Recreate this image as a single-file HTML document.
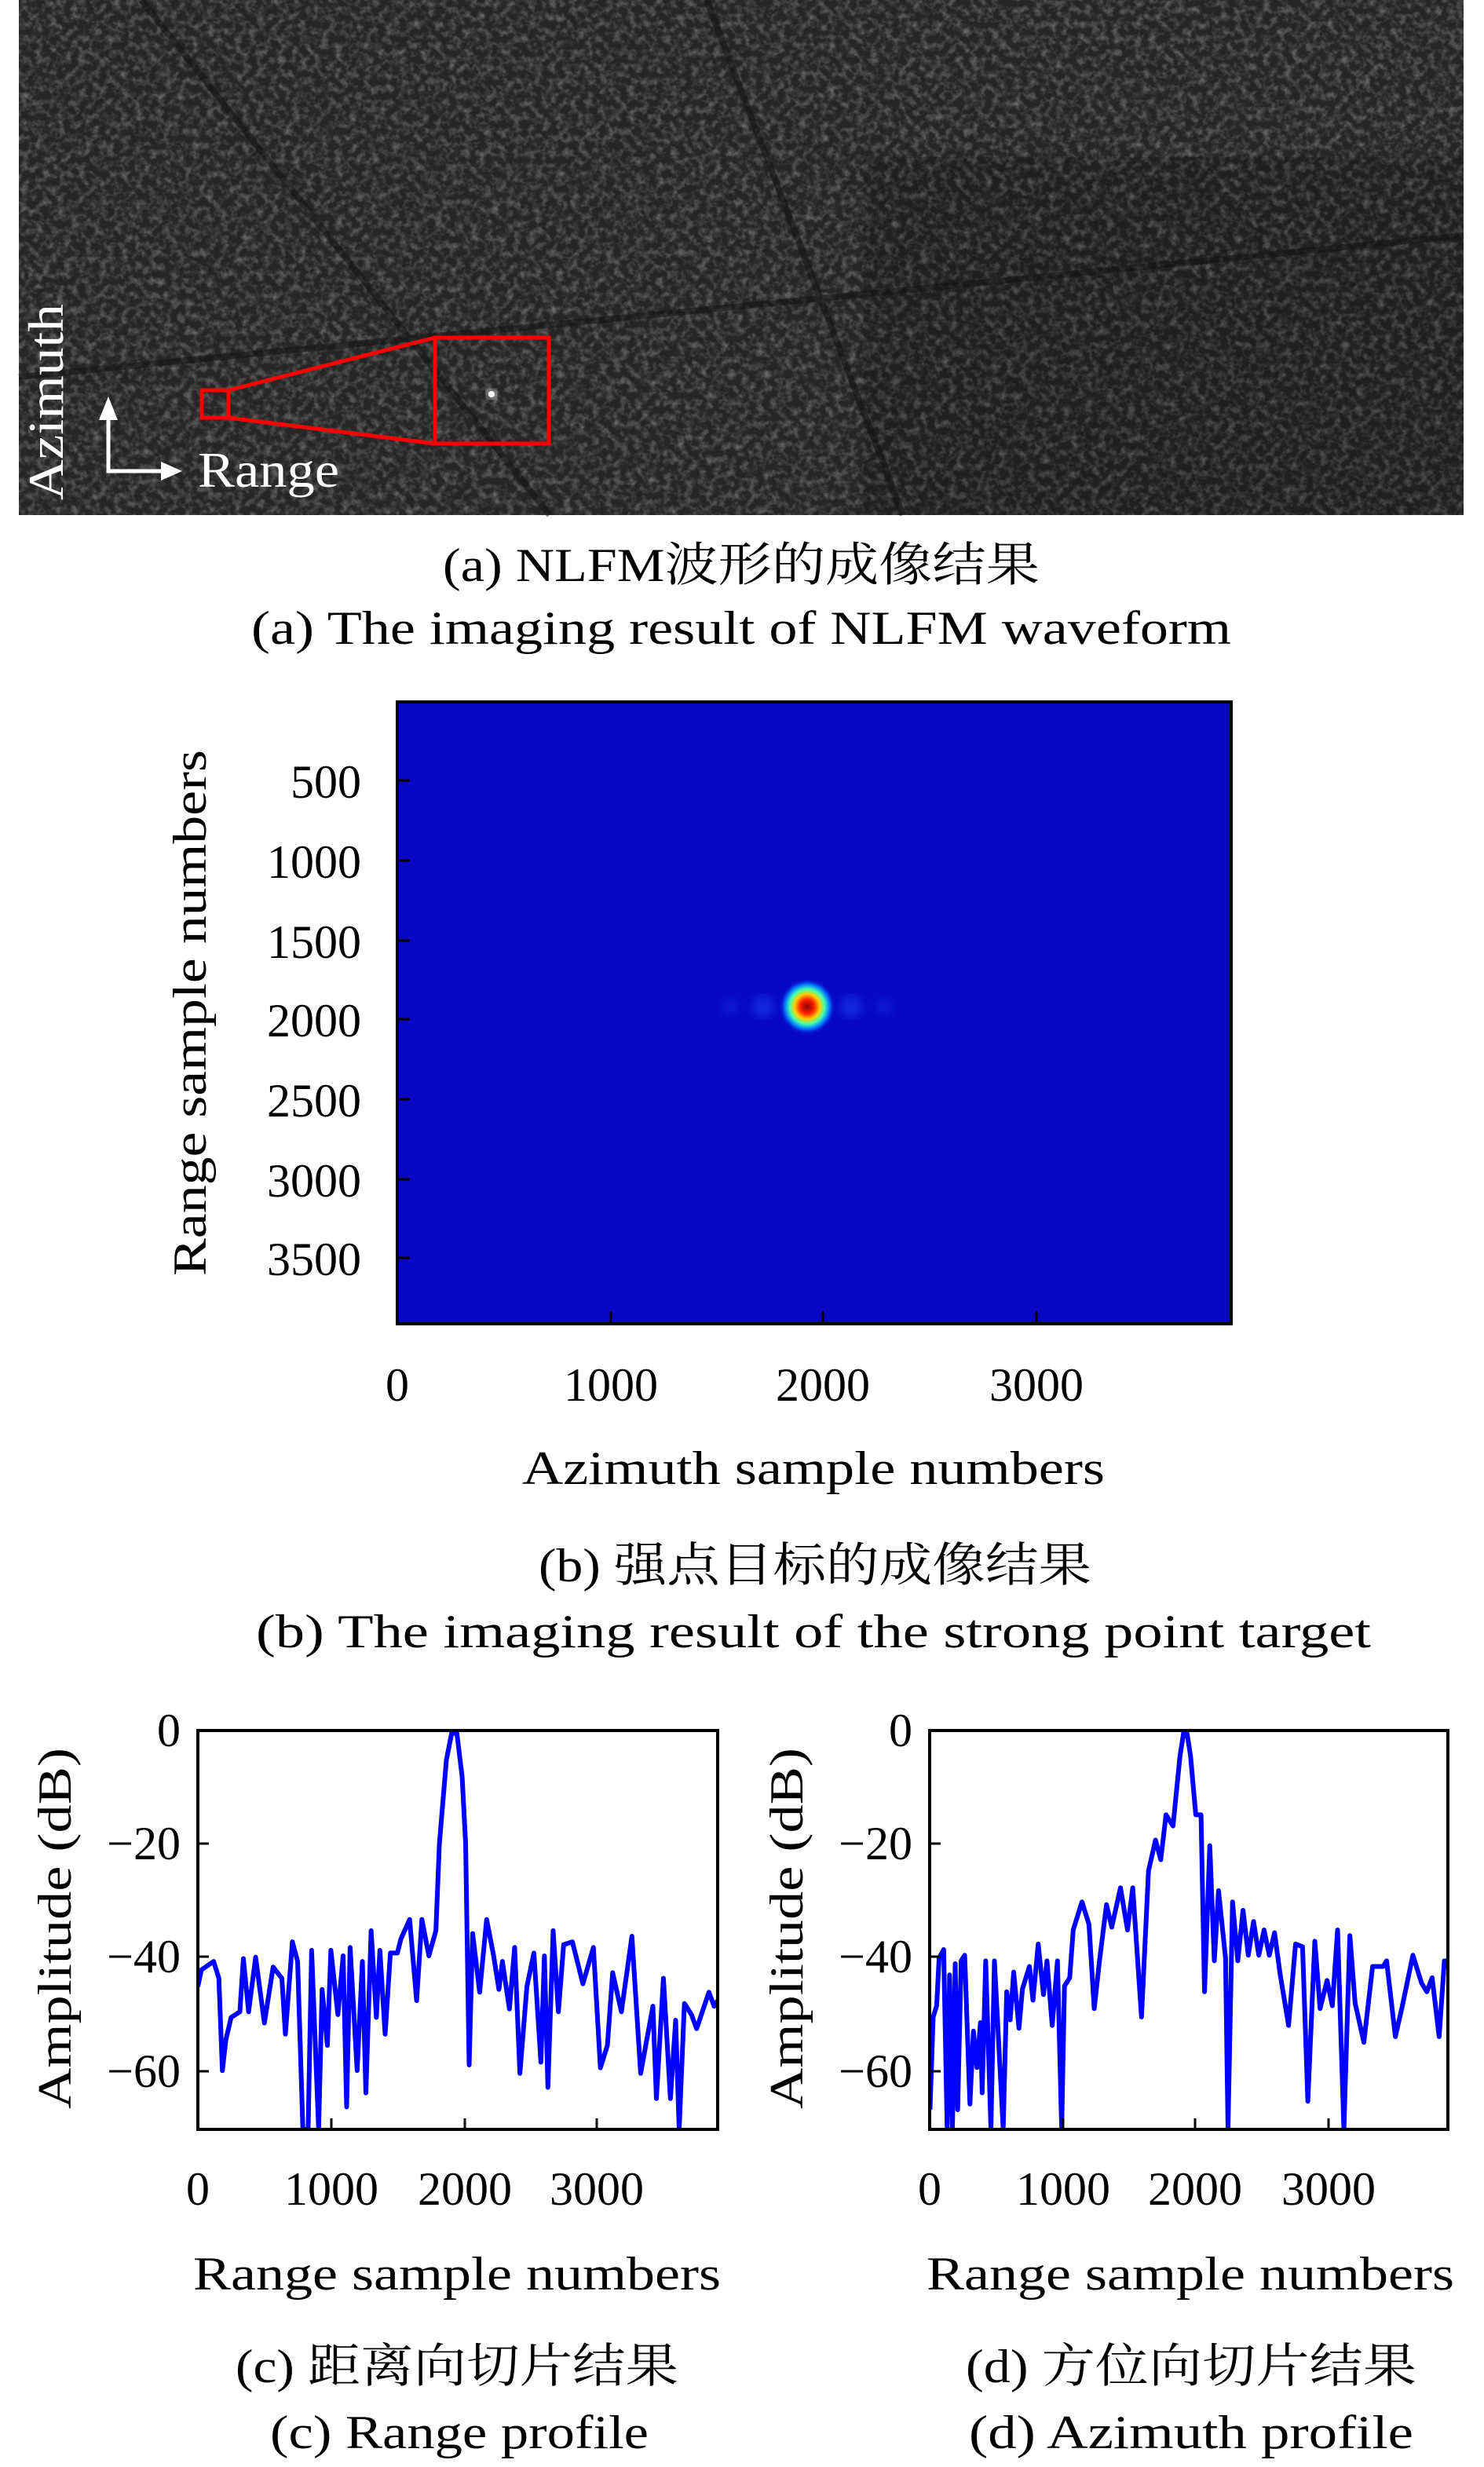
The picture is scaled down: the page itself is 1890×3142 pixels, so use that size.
<!DOCTYPE html>
<html><head><meta charset="utf-8"><style>html,body{margin:0;padding:0;background:#fff}svg{display:block}
text{font-family:"Liberation Serif","Noto Serif CJK SC",serif;fill:#000}</style></head><body>
<svg width="1890" height="3142" viewBox="0 0 1890 3142" xmlns="http://www.w3.org/2000/svg">
<defs>
<filter id="tex" x="0" y="0" width="100%" height="100%">
<feTurbulence type="fractalNoise" baseFrequency="0.11" numOctaves="3" seed="7" result="n"/>
<feColorMatrix in="n" type="matrix" values="0 0 0 0 0  0 0 0 0 0  0 0 0 0 0  1.2 0 0 0 -0.5" result="a"/>
<feFlood flood-color="#9a9a9a"/>
<feComposite in2="a" operator="in"/>
</filter>
<filter id="bl"><feGaussianBlur stdDeviation="6"/></filter>
<radialGradient id="spot">
<stop offset="0" stop-color="#8a0000"/><stop offset="0.25" stop-color="#ff2000"/><stop offset="0.45" stop-color="#ffd000"/><stop offset="0.62" stop-color="#40ffb0"/><stop offset="0.8" stop-color="#0070ff"/><stop offset="1" stop-color="#0808c4" stop-opacity="0"/>
</radialGradient>
</defs>

<!-- SAR image -->
<rect x="24" y="0" width="1840" height="656" fill="#262626"/>
<rect x="24" y="0" width="1840" height="656" filter="url(#tex)"/>
<rect x="1100" y="200" width="764" height="456" fill="#000" opacity="0.15"/>
<g stroke="#111" stroke-width="8" opacity="0.5">
<line x1="180" y1="0" x2="700" y2="656"/><line x1="900" y1="0" x2="1150" y2="656"/><line x1="24" y1="480" x2="1864" y2="300"/>
</g>
<text x="80" y="512" font-size="64" style="fill:#fff" transform="rotate(-90 80 512)" text-anchor="middle" textLength="250" lengthAdjust="spacingAndGlyphs">Azimuth</text>
<g stroke="#fff" stroke-width="5" fill="none"><polyline points="138,530 138,600 210,600"/></g>
<polygon points="138,505 126,535 150,535" fill="#fff"/>
<polygon points="232,600 205,588 205,612" fill="#fff"/>
<text x="252" y="620" font-size="64" style="fill:#fff" textLength="180" lengthAdjust="spacingAndGlyphs">Range</text>
<g stroke="#f00" stroke-width="5" fill="none">
<rect x="257" y="497" width="34" height="35"/><rect x="554" y="430" width="145" height="135"/>
<line x1="291" y1="497" x2="554" y2="430"/><line x1="291" y1="532" x2="554" y2="565"/>
</g>
<circle cx="626" cy="502" r="6" fill="#fff" filter="url(#bl)"/>
<circle cx="626" cy="502" r="4" fill="#fff"/>

<g font-size="60">
<text x="944" y="740" text-anchor="middle" textLength="760" lengthAdjust="spacingAndGlyphs">(a) NLFM波形的成像结果</text>
<text x="944" y="820" text-anchor="middle" textLength="1248" lengthAdjust="spacingAndGlyphs">(a) The imaging result of NLFM waveform</text>
</g>

<!-- heatmap -->
<rect x="506" y="894" width="1062" height="792" fill="#0808c4"/>
<g filter="url(#bl)" fill="#1838e8" opacity="0.7">
<ellipse cx="972" cy="1282" rx="14" ry="14"/><ellipse cx="1084" cy="1282" rx="14" ry="14"/>
<ellipse cx="930" cy="1282" rx="10" ry="10" opacity="0.6"/><ellipse cx="1126" cy="1282" rx="10" ry="10" opacity="0.6"/>
</g>
<circle cx="1028" cy="1282" r="36" fill="url(#spot)"/>
<rect x="506" y="894" width="1062" height="792" fill="none" stroke="#000" stroke-width="4"/>
<g stroke="#000" stroke-width="3">
<line x1="506" y1="994" x2="522" y2="994"/><line x1="506" y1="1096" x2="522" y2="1096"/><line x1="506" y1="1198" x2="522" y2="1198"/><line x1="506" y1="1298" x2="522" y2="1298"/><line x1="506" y1="1400" x2="522" y2="1400"/><line x1="506" y1="1502" x2="522" y2="1502"/><line x1="506" y1="1602" x2="522" y2="1602"/>
<line x1="778" y1="1686" x2="778" y2="1670"/><line x1="1048" y1="1686" x2="1048" y2="1670"/><line x1="1320" y1="1686" x2="1320" y2="1670"/>
</g>
<g font-size="60" text-anchor="end">
<text x="460" y="1016">500</text><text x="460" y="1118">1000</text><text x="460" y="1220">1500</text><text x="460" y="1320">2000</text><text x="460" y="1422">2500</text><text x="460" y="1524">3000</text><text x="460" y="1624">3500</text>
</g>
<g font-size="60" text-anchor="middle">
<text x="506" y="1784">0</text><text x="778" y="1784">1000</text><text x="1048" y="1784">2000</text><text x="1320" y="1784">3000</text>
</g>
<g font-size="60">
<text x="262" y="1290" text-anchor="middle" transform="rotate(-90 262 1290)" textLength="670" lengthAdjust="spacingAndGlyphs">Range sample numbers</text>
<text x="1036" y="1890" text-anchor="middle" textLength="742" lengthAdjust="spacingAndGlyphs">Azimuth sample numbers</text>
<text x="1038" y="2014" text-anchor="middle" textLength="704" lengthAdjust="spacingAndGlyphs">(b) 强点目标的成像结果</text>
<text x="1036" y="2098" text-anchor="middle" textLength="1420" lengthAdjust="spacingAndGlyphs">(b) The imaging result of the strong point target</text>
</g>

<!-- plot c -->
<svg x="252" y="2204" width="662" height="508" viewBox="30 75 1485 1425" preserveAspectRatio="none" overflow="hidden">
<polyline fill="none" stroke="#0000ff" stroke-width="6" vector-effect="non-scaling-stroke" stroke-linejoin="round" points="30,990 40,930 75,900 90,960 100,1290 110,1180 125,1100 150,1080 160,890 175,1080 195,885 220,1120 245,920 270,960 280,1160 300,830 315,900 330,1500 345,1500 355,860 375,1500 385,1000 400,1200 410,860 430,1090 445,880 455,1420 465,850 485,1290 500,900 510,1370 525,790 540,1100 550,860 565,1160 580,870 600,870 610,820 635,750 655,1040 670,750 690,880 710,790 720,480 740,180 755,85 770,85 785,240 795,480 805,1270 815,800 835,1010 855,750 875,880 890,1000 900,900 920,1070 935,850 950,1300 970,990 990,870 1010,1260 1020,880 1030,1350 1045,790 1060,1080 1075,840 1100,830 1130,980 1160,850 1180,1280 1200,1200 1215,940 1240,1080 1270,810 1295,1300 1330,1060 1340,1390 1360,960 1380,1390 1395,1110 1405,1500 1420,1050 1440,1090 1455,1140 1490,1010 1505,1060 1515,1040"/>
</svg>
<rect x="252" y="2204" width="662" height="508" fill="none" stroke="#000" stroke-width="4"/>
<g stroke="#000" stroke-width="3">
<line x1="252" y1="2348" x2="266" y2="2348"/><line x1="252" y1="2492" x2="266" y2="2492"/><line x1="252" y1="2638" x2="266" y2="2638"/>
<line x1="422" y1="2712" x2="422" y2="2698"/><line x1="592" y1="2712" x2="592" y2="2698"/><line x1="760" y1="2712" x2="760" y2="2698"/>
</g>
<g font-size="60" text-anchor="end">
<text x="230" y="2224">0</text><text x="230" y="2368">−20</text><text x="230" y="2512">−40</text><text x="230" y="2658">−60</text>
</g>
<g font-size="60" text-anchor="middle">
<text x="252" y="2808">0</text><text x="422" y="2808">1000</text><text x="592" y="2808">2000</text><text x="760" y="2808">3000</text>
</g>
<g font-size="60">
<text x="90" y="2456" text-anchor="middle" transform="rotate(-90 90 2456)" textLength="460" lengthAdjust="spacingAndGlyphs">Amplitude (dB)</text>
<text x="582" y="2916" text-anchor="middle" textLength="672" lengthAdjust="spacingAndGlyphs">Range sample numbers</text>
<text x="582" y="3034" text-anchor="middle" textLength="564" lengthAdjust="spacingAndGlyphs">(c) 距离向切片结果</text>
<text x="585" y="3118" text-anchor="middle" textLength="482" lengthAdjust="spacingAndGlyphs">(c) Range profile</text>
</g>

<!-- plot d -->
<svg x="1184" y="2204" width="660" height="508" viewBox="35 80 1480 1420" preserveAspectRatio="none" overflow="hidden">
<polyline fill="none" stroke="#0000ff" stroke-width="6" vector-effect="non-scaling-stroke" stroke-linejoin="round" points="36,1430 45,1100 55,1060 62,890 75,860 85,1500 92,950 100,1500 108,910 115,1430 125,900 135,880 150,1410 160,1150 170,1280 180,1120 185,1370 195,900 210,1500 220,900 235,1260 245,1500 255,1010 265,1110 275,940 290,1140 300,1000 320,920 330,1040 345,840 360,1020 370,900 385,1130 400,900 412,1500 420,990 435,960 445,790 470,690 490,770 505,1070 520,900 540,700 555,780 580,640 600,790 615,640 640,1100 660,580 680,470 695,540 710,380 730,420 750,170 760,90 770,90 780,170 795,380 810,380 820,1010 835,490 848,900 860,650 880,890 887,1500 900,690 915,900 930,720 945,880 960,760 975,880 990,790 1005,880 1020,800 1035,940 1060,1130 1080,840 1100,850 1115,1400 1135,830 1150,1070 1170,970 1185,1060 1200,790 1218,1500 1235,810 1250,1050 1275,1190 1300,920 1330,920 1340,900 1365,1170 1385,1060 1415,880 1440,980 1455,1010 1470,960 1490,1170 1505,900 1515,900"/>
</svg>
<rect x="1184" y="2204" width="660" height="508" fill="none" stroke="#000" stroke-width="4"/>
<g stroke="#000" stroke-width="3">
<line x1="1184" y1="2348" x2="1198" y2="2348"/><line x1="1184" y1="2492" x2="1198" y2="2492"/><line x1="1184" y1="2638" x2="1198" y2="2638"/>
<line x1="1354" y1="2712" x2="1354" y2="2698"/><line x1="1522" y1="2712" x2="1522" y2="2698"/><line x1="1692" y1="2712" x2="1692" y2="2698"/>
</g>
<g font-size="60" text-anchor="end">
<text x="1162" y="2224">0</text><text x="1162" y="2368">−20</text><text x="1162" y="2512">−40</text><text x="1162" y="2658">−60</text>
</g>
<g font-size="60" text-anchor="middle">
<text x="1184" y="2808">0</text><text x="1354" y="2808">1000</text><text x="1522" y="2808">2000</text><text x="1692" y="2808">3000</text>
</g>
<g font-size="60">
<text x="1022" y="2456" text-anchor="middle" transform="rotate(-90 1022 2456)" textLength="460" lengthAdjust="spacingAndGlyphs">Amplitude (dB)</text>
<text x="1516" y="2916" text-anchor="middle" textLength="672" lengthAdjust="spacingAndGlyphs">Range sample numbers</text>
<text x="1517" y="3034" text-anchor="middle" textLength="574" lengthAdjust="spacingAndGlyphs">(d) 方位向切片结果</text>
<text x="1517" y="3118" text-anchor="middle" textLength="566" lengthAdjust="spacingAndGlyphs">(d) Azimuth profile</text>
</g>
</svg>
</body></html>
